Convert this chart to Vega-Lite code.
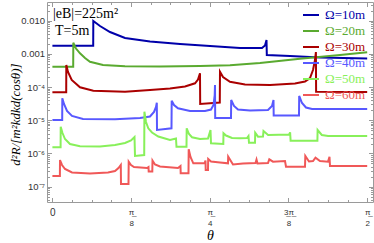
{
 "$schema": "https://vega.github.io/schema/vega-lite/v6.json",
 "width": 326, "height": 200,
 "autosize": "none",
 "padding": {"left": 47, "top": 2, "right": 1, "bottom": 41},
 "background": "white",
 "datasets": {
  "curves": [
   {"series":"Ω=10m","theta":0,"value":1.77e-3},{"series":"Ω=10m","theta":0.2036,"value":1.77e-3},{"series":"Ω=10m","theta":0.2041,"value":9.79e-3},{"series":"Ω=10m","theta":0.2375,"value":6.92e-3},{"series":"Ω=10m","theta":0.2874,"value":4.57e-3},{"series":"Ω=10m","theta":0.3623,"value":3.01e-3},{"series":"Ω=10m","theta":0.4871,"value":2.36e-3},{"series":"Ω=10m","theta":0.6368,"value":1.99e-3},{"series":"Ω=10m","theta":0.7865,"value":1.73e-3},{"series":"Ω=10m","theta":0.9362,"value":1.51e-3},{"series":"Ω=10m","theta":1.0459,"value":1.50e-3},{"series":"Ω=10m","theta":1.0609,"value":1.79e-3},{"series":"Ω=10m","theta":1.0684,"value":2.62e-3},{"series":"Ω=10m","theta":1.0699,"value":9.26e-4},{"series":"Ω=10m","theta":1.1857,"value":8.65e-4},{"series":"Ω=10m","theta":1.3353,"value":7.79e-4},{"series":"Ω=10m","theta":1.5708,"value":7.27e-4},
   {"series":"Ω=20m","theta":0,"value":4.11e-4},{"series":"Ω=20m","theta":0.1038,"value":4.11e-4},{"series":"Ω=20m","theta":0.1043,"value":2.17e-3},{"series":"Ω=20m","theta":0.1178,"value":1.45e-3},{"series":"Ω=20m","theta":0.1377,"value":1.04e-3},{"series":"Ω=20m","theta":0.1627,"value":7.52e-4},{"series":"Ω=20m","theta":0.1876,"value":5.82e-4},{"series":"Ω=20m","theta":0.2525,"value":4.63e-4},{"series":"Ω=20m","theta":0.3623,"value":4.23e-4},{"series":"Ω=20m","theta":0.5369,"value":4.17e-4},{"series":"Ω=20m","theta":0.7365,"value":4.32e-4},{"series":"Ω=20m","theta":0.8862,"value":4.54e-4},{"series":"Ω=20m","theta":1.0359,"value":5.32e-4},{"series":"Ω=20m","theta":1.2355,"value":7.17e-4},{"series":"Ω=20m","theta":1.4351,"value":9.26e-4},{"series":"Ω=20m","theta":1.5708,"value":1.12e-3},
   {"series":"Ω=30m","theta":0,"value":6.97e-5},{"series":"Ω=30m","theta":0.0689,"value":6.97e-5},{"series":"Ω=30m","theta":0.0694,"value":4.63e-4},{"series":"Ω=30m","theta":0.0778,"value":2.85e-4},{"series":"Ω=30m","theta":0.0963,"value":1.64e-4},{"series":"Ω=30m","theta":0.1377,"value":9.86e-5},{"series":"Ω=30m","theta":0.2041,"value":7.79e-5},{"series":"Ω=30m","theta":0.3623,"value":7.27e-5},{"series":"Ω=30m","theta":0.4871,"value":8.18e-5},{"series":"Ω=30m","theta":0.5868,"value":9.08e-5},{"series":"Ω=30m","theta":0.6617,"value":1.04e-4},{"series":"Ω=30m","theta":0.7116,"value":1.30e-4},{"series":"Ω=30m","theta":0.7265,"value":1.69e-4},{"series":"Ω=30m","theta":0.7365,"value":2.61e-4},{"series":"Ω=30m","theta":0.7375,"value":3.10e-5},{"series":"Ω=30m","theta":0.8353,"value":3.44e-5},{"series":"Ω=30m","theta":0.8363,"value":2.91e-4},{"series":"Ω=30m","theta":0.8513,"value":2.01e-4},{"series":"Ω=30m","theta":0.8862,"value":1.45e-4},{"series":"Ω=30m","theta":0.9611,"value":1.20e-4},{"series":"Ω=30m","theta":1.0858,"value":1.16e-4},{"series":"Ω=30m","theta":1.2106,"value":1.28e-4},{"series":"Ω=30m","theta":1.2605,"value":1.47e-4},{"series":"Ω=30m","theta":1.2854,"value":1.88e-4},{"series":"Ω=30m","theta":1.3004,"value":3.27e-4},{"series":"Ω=30m","theta":1.3104,"value":6.55e-4},{"series":"Ω=30m","theta":1.3149,"value":1.14e-3},{"series":"Ω=30m","theta":1.3159,"value":7.27e-5},{"series":"Ω=30m","theta":1.5708,"value":7.11e-5},
   {"series":"Ω=40m","theta":0,"value":1.02e-5},{"series":"Ω=40m","theta":0.0489,"value":1.02e-5},{"series":"Ω=40m","theta":0.0494,"value":4.60e-5},{"series":"Ω=40m","theta":0.0579,"value":3.10e-5},{"series":"Ω=40m","theta":0.0729,"value":1.91e-5},{"series":"Ω=40m","theta":0.0978,"value":1.35e-5},{"series":"Ω=40m","theta":0.1527,"value":1.09e-5},{"series":"Ω=40m","theta":0.3124,"value":1.07e-5},{"series":"Ω=40m","theta":0.4371,"value":1.17e-5},{"series":"Ω=40m","theta":0.4870,"value":1.30e-5},{"series":"Ω=40m","theta":0.5070,"value":1.78e-5},{"series":"Ω=40m","theta":0.5170,"value":2.52e-5},{"series":"Ω=40m","theta":0.5210,"value":3.39e-5},{"series":"Ω=40m","theta":0.5220,"value":5.13e-6},{"series":"Ω=40m","theta":0.5943,"value":5.74e-6},{"series":"Ω=40m","theta":0.5953,"value":3.89e-5},{"series":"Ω=40m","theta":0.6068,"value":2.89e-5},{"series":"Ω=40m","theta":0.6267,"value":2.30e-5},{"series":"Ω=40m","theta":0.6866,"value":1.91e-5},{"series":"Ω=40m","theta":0.7615,"value":1.91e-5},{"series":"Ω=40m","theta":0.7914,"value":2.11e-5},{"series":"Ω=40m","theta":0.8039,"value":2.89e-5},{"series":"Ω=40m","theta":0.8099,"value":5.78e-5},{"series":"Ω=40m","theta":0.8114,"value":1.16e-4},{"series":"Ω=40m","theta":0.8124,"value":1.17e-5},{"series":"Ω=40m","theta":0.8912,"value":1.17e-5},{"series":"Ω=40m","theta":0.8922,"value":4.08e-5},{"series":"Ω=40m","theta":0.9062,"value":2.70e-5},{"series":"Ω=40m","theta":0.9261,"value":2.11e-5},{"series":"Ω=40m","theta":0.9860,"value":1.97e-5},{"series":"Ω=40m","theta":1.0758,"value":2.04e-5},{"series":"Ω=40m","theta":1.0958,"value":2.70e-5},{"series":"Ω=40m","theta":1.1033,"value":4.08e-5},{"series":"Ω=40m","theta":1.1043,"value":1.40e-5},{"series":"Ω=40m","theta":1.2305,"value":1.40e-5},{"series":"Ω=40m","theta":1.2315,"value":5.40e-5},{"series":"Ω=40m","theta":1.2455,"value":3.32e-5},{"series":"Ω=40m","theta":1.2654,"value":2.43e-5},{"series":"Ω=40m","theta":1.2954,"value":2.19e-5},{"series":"Ω=40m","theta":1.5708,"value":2.19e-5},
   {"series":"Ω=50m","theta":0,"value":1.54e-6},{"series":"Ω=50m","theta":0.0409,"value":1.54e-6},{"series":"Ω=50m","theta":0.0414,"value":6.41e-6},{"series":"Ω=50m","theta":0.0504,"value":4.14e-6},{"series":"Ω=50m","theta":0.0629,"value":2.73e-6},{"series":"Ω=50m","theta":0.0878,"value":1.93e-6},{"series":"Ω=50m","theta":0.1377,"value":1.65e-6},{"series":"Ω=50m","theta":0.2375,"value":1.63e-6},{"series":"Ω=50m","theta":0.3124,"value":1.80e-6},{"series":"Ω=50m","theta":0.3623,"value":2.07e-6},{"series":"Ω=50m","theta":0.3922,"value":2.47e-6},{"series":"Ω=50m","theta":0.4097,"value":3.14e-6},{"series":"Ω=50m","theta":0.4122,"value":8.41e-7},{"series":"Ω=50m","theta":0.4581,"value":9.02e-7},{"series":"Ω=50m","theta":0.4591,"value":1.82e-5},{"series":"Ω=50m","theta":0.4671,"value":8.89e-6},{"series":"Ω=50m","theta":0.4785,"value":5.74e-6},{"series":"Ω=50m","theta":0.4970,"value":4.29e-6},{"series":"Ω=50m","theta":0.5284,"value":3.25e-6},{"series":"Ω=50m","theta":0.5868,"value":2.55e-6},{"series":"Ω=50m","theta":0.6167,"value":2.83e-6},{"series":"Ω=50m","theta":0.6192,"value":1.60e-6},{"series":"Ω=50m","theta":0.6691,"value":1.60e-6},{"series":"Ω=50m","theta":0.6701,"value":5.74e-6},{"series":"Ω=50m","theta":0.6816,"value":3.86e-6},{"series":"Ω=50m","theta":0.6966,"value":3.08e-6},{"series":"Ω=50m","theta":0.7365,"value":2.73e-6},{"series":"Ω=50m","theta":0.7764,"value":2.83e-6},{"series":"Ω=50m","theta":0.7889,"value":5.10e-6},{"series":"Ω=50m","theta":0.7914,"value":2.03e-6},{"series":"Ω=50m","theta":0.8528,"value":1.93e-6},{"series":"Ω=50m","theta":0.8538,"value":4.06e-6},{"series":"Ω=50m","theta":0.8663,"value":3.48e-6},{"series":"Ω=50m","theta":0.8962,"value":2.93e-6},{"series":"Ω=50m","theta":0.9361,"value":2.87e-6},{"series":"Ω=50m","theta":0.9710,"value":2.93e-6},{"series":"Ω=50m","theta":0.9785,"value":3.37e-6},{"series":"Ω=50m","theta":0.9810,"value":2.11e-6},{"series":"Ω=50m","theta":1.0110,"value":2.11e-6},{"series":"Ω=50m","theta":1.0120,"value":4.23e-6},{"series":"Ω=50m","theta":1.0260,"value":3.21e-6},{"series":"Ω=50m","theta":1.0509,"value":3.25e-6},{"series":"Ω=50m","theta":1.0534,"value":4.76e-6},{"series":"Ω=50m","theta":1.0764,"value":3.61e-6},{"series":"Ω=50m","theta":1.1812,"value":3.73e-6},{"series":"Ω=50m","theta":1.1862,"value":4.35e-6},{"series":"Ω=50m","theta":1.1887,"value":2.43e-6},{"series":"Ω=50m","theta":1.3224,"value":2.43e-6},{"series":"Ω=50m","theta":1.3234,"value":5.10e-6},{"series":"Ω=50m","theta":1.3443,"value":3.61e-6},{"series":"Ω=50m","theta":1.3757,"value":3.37e-6},{"series":"Ω=50m","theta":1.5708,"value":3.37e-6},
   {"series":"Ω=60m","theta":0,"value":2.10e-7},{"series":"Ω=60m","theta":0.0374,"value":2.10e-7},{"series":"Ω=60m","theta":0.0379,"value":6.37e-7},{"series":"Ω=60m","theta":0.0479,"value":4.51e-7},{"series":"Ω=60m","theta":0.0629,"value":3.41e-7},{"series":"Ω=60m","theta":0.0978,"value":2.68e-7},{"series":"Ω=60m","theta":0.1876,"value":2.50e-7},{"series":"Ω=60m","theta":0.2774,"value":2.68e-7},{"series":"Ω=60m","theta":0.3124,"value":2.97e-7},{"series":"Ω=60m","theta":0.3298,"value":3.66e-7},{"series":"Ω=60m","theta":0.3413,"value":4.51e-7},{"series":"Ω=60m","theta":0.3423,"value":1.21e-7},{"series":"Ω=60m","theta":0.3797,"value":1.21e-7},{"series":"Ω=60m","theta":0.3807,"value":5.66e-7},{"series":"Ω=60m","theta":0.3922,"value":4.51e-7},{"series":"Ω=60m","theta":0.4072,"value":3.92e-7},{"series":"Ω=60m","theta":0.4720,"value":3.66e-7},{"series":"Ω=60m","theta":0.4795,"value":3.92e-7},{"series":"Ω=60m","theta":0.4805,"value":2.87e-7},{"series":"Ω=60m","theta":0.4985,"value":2.87e-7},{"series":"Ω=60m","theta":0.4995,"value":6.15e-7},{"series":"Ω=60m","theta":0.5120,"value":4.67e-7},{"series":"Ω=60m","theta":0.5369,"value":4.06e-7},{"series":"Ω=60m","theta":0.6267,"value":3.66e-7},{"series":"Ω=60m","theta":0.6392,"value":4.20e-7},{"series":"Ω=60m","theta":0.6402,"value":2.53e-7},{"series":"Ω=60m","theta":0.6791,"value":2.53e-7},{"series":"Ω=60m","theta":0.6801,"value":1.34e-6},{"series":"Ω=60m","theta":0.6891,"value":7.85e-7},{"series":"Ω=60m","theta":0.7031,"value":5.07e-7},{"series":"Ω=60m","theta":0.7590,"value":5.07e-7},{"series":"Ω=60m","theta":0.7640,"value":6.15e-7},{"series":"Ω=60m","theta":0.7650,"value":3.18e-7},{"series":"Ω=60m","theta":0.7764,"value":3.18e-7},{"series":"Ω=60m","theta":0.7774,"value":6.83e-7},{"series":"Ω=60m","theta":0.7914,"value":5.74e-7},{"series":"Ω=60m","theta":0.8363,"value":5.36e-7},{"series":"Ω=60m","theta":0.8762,"value":5.07e-7},{"series":"Ω=60m","theta":0.8772,"value":8.01e-7},{"series":"Ω=60m","theta":0.9012,"value":4.67e-7},{"series":"Ω=60m","theta":0.9511,"value":5.00e-7},{"series":"Ω=60m","theta":1.0135,"value":5.18e-7},{"series":"Ω=60m","theta":1.0185,"value":6.59e-7},{"series":"Ω=60m","theta":1.0235,"value":5.00e-7},{"series":"Ω=60m","theta":1.0758,"value":5.18e-7},{"series":"Ω=60m","theta":1.0823,"value":6.68e-7},{"series":"Ω=60m","theta":1.1008,"value":5.66e-7},{"series":"Ω=60m","theta":1.1607,"value":5.94e-7},{"series":"Ω=60m","theta":1.1657,"value":4.00e-7},{"series":"Ω=60m","theta":1.2605,"value":4.00e-7},{"series":"Ω=60m","theta":1.2620,"value":8.41e-7},{"series":"Ω=60m","theta":1.2804,"value":5.74e-7},{"series":"Ω=60m","theta":1.3004,"value":5.94e-7},{"series":"Ω=60m","theta":1.3129,"value":7.47e-7},{"series":"Ω=60m","theta":1.3353,"value":5.94e-7},{"series":"Ω=60m","theta":1.3752,"value":5.66e-7},{"series":"Ω=60m","theta":1.3827,"value":8.01e-7},{"series":"Ω=60m","theta":1.3852,"value":4.20e-7},{"series":"Ω=60m","theta":1.5708,"value":4.20e-7}
  ],
  "notes": [
   {"theta": 0.003, "value": 0.0159, "label": "|eB|=225m²"},
   {"theta": 0.013, "value": 0.0050, "label": "T=5m"}
  ]
 },
 "config": {
  "font": "Liberation Sans",
  "view": {"stroke": "#9a9a9a", "strokeWidth": 1},
  "axis": {"domain": false, "grid": false, "tickColor": "#9a9a9a", "tickWidth": 1, "labelColor": "#333333", "labelFont": "Liberation Sans", "labelOverlap": false, "labelFlush": false}
 },
 "layer": [
  {
   "data": {"name": "curves"},
   "mark": {"type": "line", "strokeWidth": 2, "clip": true},
   "encoding": {
    "x": {"field": "theta", "type": "quantitative",
     "scale": {"domain": [-0.02695, 1.5998], "nice": false, "zero": false},
     "axis": {"orient": "bottom", "values": [0, 0.392699, 0.785398, 1.178097, 1.570796], "tickSize": -4.5,
      "labelExpr": "datum.value < 0.1 ? '0' : datum.value < 0.5 ? ['\u03c0\u0332','8'] : datum.value < 1 ? ['\u03c0\u0332','4'] : datum.value < 1.3 ? ['3\u0332\u03c0\u0332','8'] : ['\u03c0\u0332','2']",
      "labelFontSize": {"condition": {"test": "datum.value < 0.1", "value": 10}, "value": 8},
      "labelBaseline": "middle", "labelPadding": 15, "labelLineHeight": 10.5,
      "title": "θ", "titleFont": "Liberation Serif", "titleFontStyle": "italic", "titleFontSize": 14, "titleFontWeight": "normal", "titleColor": "#000000", "titleY": 33, "titleBaseline": "middle"}},
    "y": {"field": "value", "type": "quantitative",
     "scale": {"type": "log", "domain": [3.46e-8, 0.0366], "nice": false},
     "axis": {"orient": "left", "values": [0.01, 0.001, 0.0001, 0.00001, 0.000001, 0.0000001], "tickSize": -4.5,
      "labelExpr": "datum.value > 0.0005 ? format(datum.value, '.3f') : datum.value > 0.00005 ? '10\u207b\u2074' : datum.value > 0.000005 ? '10\u207b\u2075' : datum.value > 0.0000005 ? '10\u207b\u2076' : '10\u207b\u2077'",
      "labelFontSize": 9.5, "labelPadding": 7,
      "title": "d²R/[m²kdkd(cosθ)]", "titleFont": "Liberation Serif", "titleFontStyle": "italic", "titleFontSize": 13, "titleFontWeight": "normal", "titleColor": "#000000", "titleX": -25, "titleY": 112}},
    "color": {"field": "series", "type": "nominal",
     "scale": {"domain": ["Ω=10m", "Ω=20m", "Ω=30m", "Ω=40m", "Ω=50m", "Ω=60m"], "range": ["#0000aa", "#5aaa30", "#aa0000", "#5858ff", "#88f05a", "#f05858"]},
     "legend": {"orient": "none", "legendX": 255, "legendY": 4, "title": null, "symbolType": "stroke", "symbolSize": 256, "symbolStrokeWidth": 2, "labelFont": "Liberation Serif", "labelFontSize": 13, "rowPadding": 0, "labelOffset": 5, "padding": 0, "labelLimit": 200,
      "encode": {"labels": {"update": {"fill": {"scale": "color", "field": "value"}}}}}}
   }
  },
  {
   "data": {"name": "curves"},
   "mark": {"type": "line", "opacity": 0},
   "encoding": {
    "x": {"field": "theta", "type": "quantitative", "scale": {"domain": [-0.02695, 1.5998], "nice": false, "zero": false},
     "axis": {"orient": "bottom", "values": [0, 0.098175, 0.19635, 0.294524, 0.392699, 0.490874, 0.589049, 0.687223, 0.785398, 0.883573, 0.981748, 1.079922, 1.178097, 1.276272, 1.374447, 1.472622, 1.570796], "tickSize": -2.5, "labels": false, "title": null}},
    "y": {"field": "value", "type": "quantitative", "scale": {"type": "log", "domain": [3.46e-8, 0.0366], "nice": false},
     "axis": {"orient": "left", "values": [4e-8,5e-8,6e-8,7e-8,8e-8,9e-8,2e-7,3e-7,4e-7,5e-7,6e-7,7e-7,8e-7,9e-7,2e-6,3e-6,4e-6,5e-6,6e-6,7e-6,8e-6,9e-6,2e-5,3e-5,4e-5,5e-5,6e-5,7e-5,8e-5,9e-5,2e-4,3e-4,4e-4,5e-4,6e-4,7e-4,8e-4,9e-4,2e-3,3e-3,4e-3,5e-3,6e-3,7e-3,8e-3,9e-3,2e-2,3e-2], "tickSize": -2.5, "labels": false, "title": null}}
   }
  },
  {
   "data": {"name": "curves"},
   "mark": {"type": "line", "opacity": 0},
   "encoding": {
    "x": {"field": "theta", "type": "quantitative", "scale": {"domain": [-0.02695, 1.5998], "nice": false, "zero": false},
     "axis": {"orient": "top", "values": [0, 0.392699, 0.785398, 1.178097, 1.570796], "tickSize": -4.5, "labels": false, "title": null}},
    "y": {"field": "value", "type": "quantitative", "scale": {"type": "log", "domain": [3.46e-8, 0.0366], "nice": false},
     "axis": {"orient": "right", "values": [0.01, 0.001, 0.0001, 0.00001, 0.000001, 0.0000001], "tickSize": -4.5, "labels": false, "title": null}}
   }
  },
  {
   "data": {"name": "curves"},
   "mark": {"type": "line", "opacity": 0},
   "encoding": {
    "x": {"field": "theta", "type": "quantitative", "scale": {"domain": [-0.02695, 1.5998], "nice": false, "zero": false},
     "axis": {"orient": "top", "values": [0, 0.098175, 0.19635, 0.294524, 0.392699, 0.490874, 0.589049, 0.687223, 0.785398, 0.883573, 0.981748, 1.079922, 1.178097, 1.276272, 1.374447, 1.472622, 1.570796], "tickSize": -2.5, "labels": false, "title": null}},
    "y": {"field": "value", "type": "quantitative", "scale": {"type": "log", "domain": [3.46e-8, 0.0366], "nice": false},
     "axis": {"orient": "right", "values": [4e-8,5e-8,6e-8,7e-8,8e-8,9e-8,2e-7,3e-7,4e-7,5e-7,6e-7,7e-7,8e-7,9e-7,2e-6,3e-6,4e-6,5e-6,6e-6,7e-6,8e-6,9e-6,2e-5,3e-5,4e-5,5e-5,6e-5,7e-5,8e-5,9e-5,2e-4,3e-4,4e-4,5e-4,6e-4,7e-4,8e-4,9e-4,2e-3,3e-3,4e-3,5e-3,6e-3,7e-3,8e-3,9e-3,2e-2,3e-2], "tickSize": -2.5, "labels": false, "title": null}}
   }
  },
  {
   "data": {"name": "notes"},
   "mark": {"type": "text", "align": "left", "baseline": "middle", "font": "Liberation Serif", "fontSize": 14, "color": "#000000"},
   "encoding": {
    "x": {"field": "theta", "type": "quantitative", "axis": null},
    "y": {"field": "value", "type": "quantitative", "axis": null},
    "text": {"field": "label"}
   }
  }
 ],
 "resolve": {"axis": {"x": "independent", "y": "independent"}}
}
